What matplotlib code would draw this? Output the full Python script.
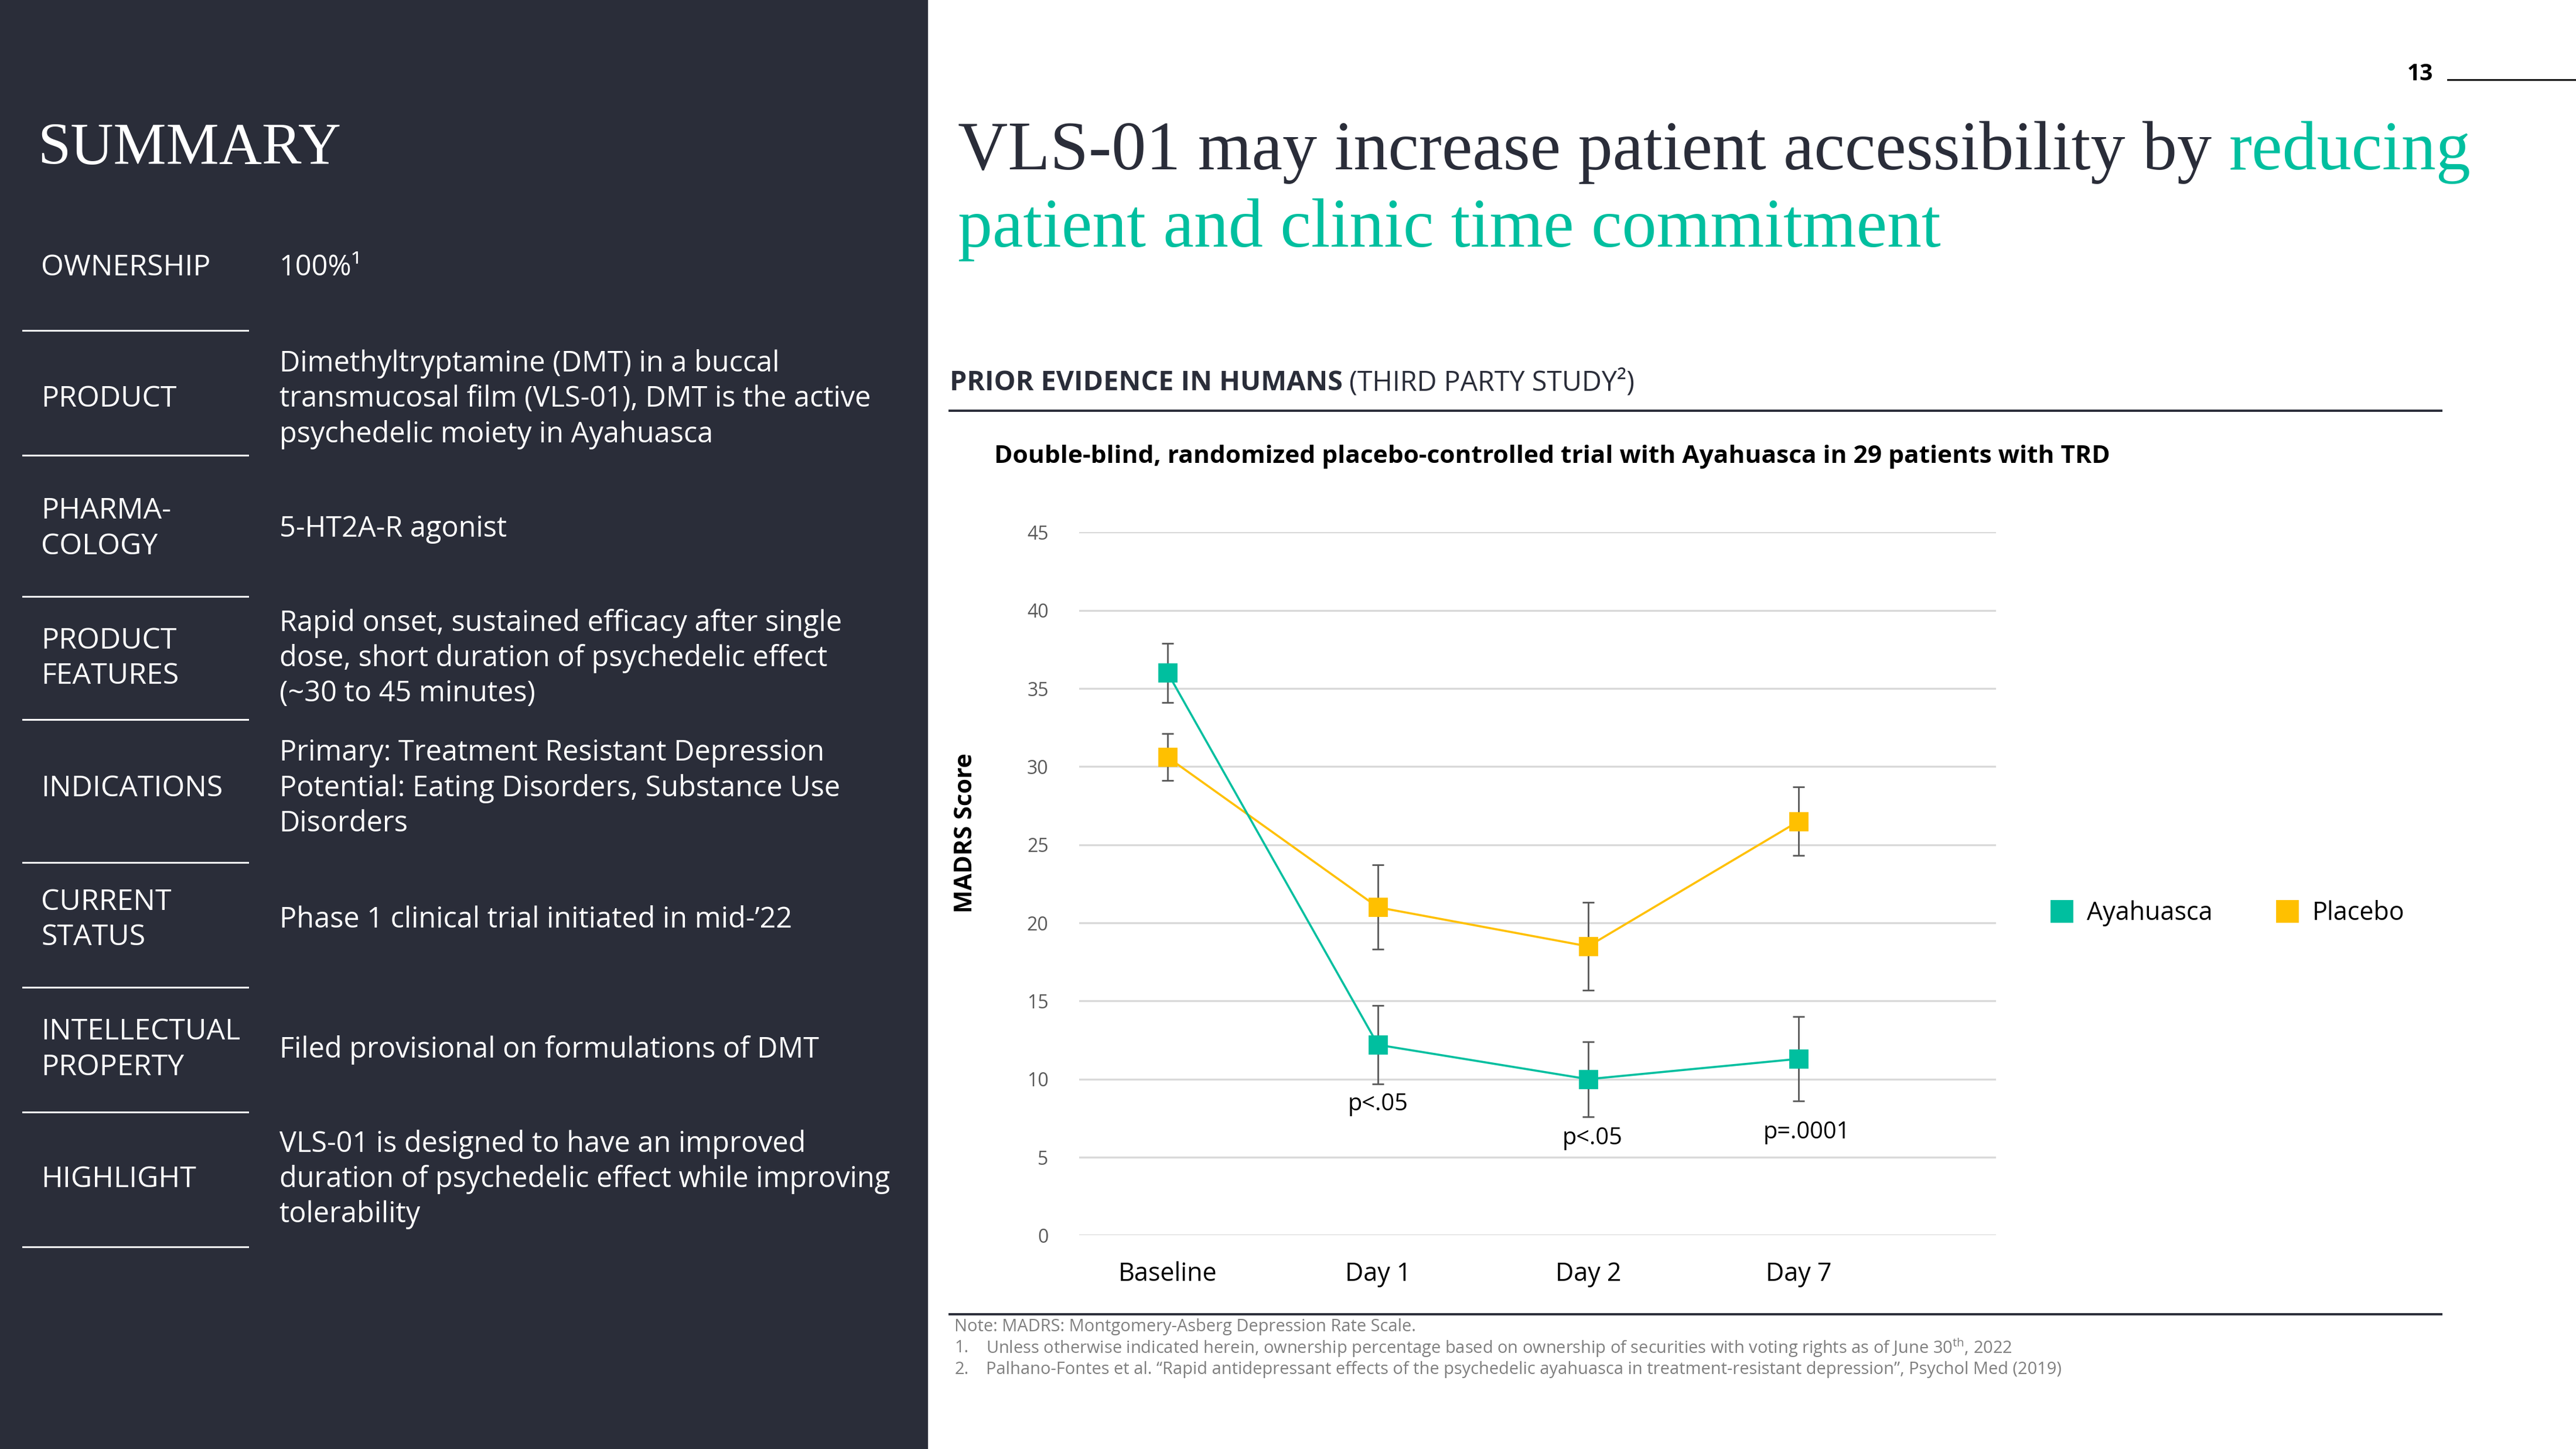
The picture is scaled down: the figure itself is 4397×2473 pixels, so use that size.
import matplotlib
matplotlib.use("Agg")
import matplotlib.pyplot as plt
from matplotlib.lines import Line2D
from matplotlib.patches import Rectangle

# -----------------------------
# Data
# -----------------------------
categories = ["Baseline", "Day 1", "Day 2", "Day 7"]
ayahuasca = [36.0, 12.2, 10.0, 11.3]
ayahuasca_err = [1.9, 2.5, 2.4, 2.7]
placebo = [30.6, 21.0, 18.5, 26.5]
placebo_err = [1.5, 2.7, 2.8, 2.2]
p_values = ["", "p<.05", "p<.05", "p=.0001"]
y_ticks = [0, 5, 10, 15, 20, 25, 30, 35, 40, 45]

row_labels = [
    ["OWNERSHIP"],
    ["PRODUCT"],
    ["PHARMA-", "COLOGY"],
    ["PRODUCT", "FEATURES"],
    ["INDICATIONS"],
    ["CURRENT", "STATUS"],
    ["INTELLECTUAL", "PROPERTY"],
    ["HIGHLIGHT"],
]
row_values = [
    ["100%¹"],
    ["Dimethyltryptamine (DMT) in a buccal",
     "transmucosal film (VLS-01), DMT is the active",
     "psychedelic moiety in Ayahuasca"],
    ["5-HT2A-R agonist"],
    ["Rapid onset, sustained efficacy after single",
     "dose, short duration of psychedelic effect",
     "(~30 to 45 minutes)"],
    ["Primary: Treatment Resistant Depression",
     "Potential: Eating Disorders, Substance Use",
     "Disorders"],
    ["Phase 1 clinical trial initiated in mid-’22"],
    ["Filed provisional on formulations of DMT"],
    ["VLS-01 is designed to have an improved",
     "duration of psychedelic effect while improving",
     "tolerability"],
]

# -----------------------------
# Style / layout
# -----------------------------
DARK = "#2a2d39"
TEAL = "#00bf9f"
GOLD = "#ffc000"
GREY = "#595959"
NOTE = "#7f7f7f"
SANS = ["Open Sans", "DejaVu Sans"]
SERIF = ["Liberation Serif", "DejaVu Serif"]

plt.rcParams["font.family"] = SANS
plt.rcParams["mathtext.fontset"] = "custom"
plt.rcParams["mathtext.rm"] = "Open Sans"

W, H = 1568, 882


def fx(x):
    return x / W


def fy(y):
    return 1 - y / H


fig = plt.figure(figsize=(21.985, 12.365), dpi=200)
fig.patch.set_facecolor("white")
renderer = fig.canvas.get_renderer()

# -----------------------------
# Left summary panel
# -----------------------------
fig.add_artist(Rectangle((0, 0), fx(565), 1, transform=fig.transFigure,
                         facecolor=DARK, edgecolor="none", zorder=0))
fig.text(fx(23), fy(100), "SUMMARY", family=SERIF, fontsize=36.5,
         color="white", ha="left", va="baseline")

row_centers = [163, 243, 322, 401, 480, 560, 639, 718]
separators = [201, 277, 363, 438, 525, 601, 677, 759]
pitch = 21.5

for labels, values, yc in zip(row_labels, row_values, row_centers):
    for k, line in enumerate(labels):
        y = yc + (k - (len(labels) - 1) / 2) * pitch
        fig.text(fx(25), fy(y), line, fontsize=18, color="white",
                 ha="left", va="center")
    for k, line in enumerate(values):
        y = yc + (k - (len(values) - 1) / 2) * pitch
        fig.text(fx(170), fy(y), line, fontsize=17.5, color="white",
                 ha="left", va="center")

for y in separators:
    fig.add_artist(Line2D([fx(14), fx(151)], [fy(y), fy(y)],
                          transform=fig.transFigure, color="white", lw=1.1))

# -----------------------------
# Title
# -----------------------------
TSIZE = 42.5
line1 = "VLS-01 may increase patient accessibility by"
line1_full = line1 + " reducing"
fig.text(fx(583), fy(103), line1, family=SERIF, fontsize=TSIZE, color=DARK,
         ha="left", va="baseline")
probe = fig.text(fx(583), fy(103), line1_full, family=SERIF, fontsize=TSIZE,
                 ha="left", va="baseline")
full_w = probe.get_window_extent(renderer).width / fig.bbox.width
probe.remove()
fig.text(fx(583) + full_w, fy(103), "reducing", family=SERIF, fontsize=TSIZE,
         color=TEAL, ha="right", va="baseline")
fig.text(fx(583), fy(150), "patient and clinic time commitment", family=SERIF,
         fontsize=TSIZE, color=TEAL, ha="left", va="baseline")

# page number
fig.text(fx(1481), fy(45), "13", fontsize=14, weight="bold", color="black",
         ha="right", va="center")
fig.add_artist(Line2D([fx(1490), fx(1568)], [fy(48.5), fy(48.5)],
                      transform=fig.transFigure, color="black", lw=1.0))

# -----------------------------
# Section heading
# -----------------------------
head = fig.text(fx(578), fy(233), "PRIOR EVIDENCE IN HUMANS", fontsize=16.8,
                weight="bold", color=DARK, ha="left", va="center")
hw = head.get_window_extent(renderer).width / fig.bbox.width
fig.text(fx(578) + hw + fx(4), fy(233), "(THIRD PARTY STUDY²)", fontsize=16.8,
         color=DARK, ha="left", va="center")
fig.add_artist(Line2D([fx(578), fx(1486)], [fy(250), fy(250)],
                      transform=fig.transFigure, color=DARK, lw=1.4))

fig.text(fx(605), fy(278),
         "Double-blind, randomized placebo-controlled trial with Ayahuasca in 29 patients with TRD",
         fontsize=15.3, weight="bold", color="black", ha="left", va="center")

# -----------------------------
# Chart
# -----------------------------
ax = fig.add_axes([fx(657), fy(752), fx(1215) - fx(657), fy(324) - fy(752)])
x = list(range(len(categories)))

ax.errorbar(x, placebo, yerr=placebo_err, color=GOLD, lw=1.3, marker="s",
            ms=11, ecolor=GREY, elinewidth=1.0, capsize=3.5, capthick=1.0,
            label="Placebo", zorder=3)
ax.errorbar(x, ayahuasca, yerr=ayahuasca_err, color=TEAL, lw=1.3, marker="s",
            ms=11, ecolor=GREY, elinewidth=1.0, capsize=3.5, capthick=1.0,
            label="Ayahuasca", zorder=4)

p_offsets = [0, 1.3, 1.4, 2.0]
p_dx = [0, 0, 0.02, 0.04]
for i, txt in enumerate(p_values):
    if txt:
        ax.text(x[i] + p_dx[i], ayahuasca[i] - ayahuasca_err[i] - p_offsets[i],
                txt, fontsize=14.3, color="black", ha="center", va="center")

ax.set_xlim(-0.42, 3.94)
ax.set_ylim(0, 45)
ax.set_yticks(y_ticks)
ax.set_xticks(x)
ax.set_xticklabels(categories)
ax.tick_params(axis="y", length=0, pad=19, labelsize=11.5, labelcolor=GREY)
ax.tick_params(axis="x", length=0, pad=16, labelsize=15.5, labelcolor="black")
ax.yaxis.grid(True, color="#d9d9d9", lw=1.2)
ax.set_axisbelow(True)
for s in ax.spines.values():
    s.set_visible(False)

fig.text(fx(588), fy(507), "MADRS Score", fontsize=15, weight="bold",
         rotation=90, ha="center", va="center", color="black")

handles = [
    Line2D([], [], marker="s", ls="none", color=TEAL, ms=13, label="Ayahuasca"),
    Line2D([], [], marker="s", ls="none", color=GOLD, ms=13, label="Placebo"),
]
fig.legend(handles=handles, loc="center left", ncol=2, frameon=False,
           bbox_to_anchor=(fx(1248), fy(556)), bbox_transform=fig.transFigure,
           fontsize=15.5, handlelength=0.9, handletextpad=0.55,
           columnspacing=2.5, borderpad=0, borderaxespad=0)

# -----------------------------
# Footnotes
# -----------------------------
fig.add_artist(Line2D([fx(578), fx(1486)], [fy(800), fy(800)],
                      transform=fig.transFigure, color=DARK, lw=1.4))
FN = 10.45
fig.text(fx(581), fy(807.5), "Note: MADRS: Montgomery-Asberg Depression Rate Scale.",
         fontsize=FN, color=NOTE, ha="left", va="center")
fig.text(fx(581), fy(820.5), "1.", fontsize=FN, color=NOTE, ha="left", va="center")
fig.text(fx(600), fy(820.5),
         r"Unless otherwise indicated herein, ownership percentage based on ownership of securities with voting rights as of June 30$^{\mathrm{th}}$, 2022",
         fontsize=FN, color=NOTE, ha="left", va="center")
fig.text(fx(581), fy(833.5), "2.", fontsize=FN, color=NOTE, ha="left", va="center")
fig.text(fx(600), fy(833.5),
         "Palhano-Fontes et al. “Rapid antidepressant effects of the psychedelic ayahuasca in treatment-resistant depression”, Psychol Med (2019)",
         fontsize=FN, color=NOTE, ha="left", va="center")

fig.savefig("out.png", dpi=200)
